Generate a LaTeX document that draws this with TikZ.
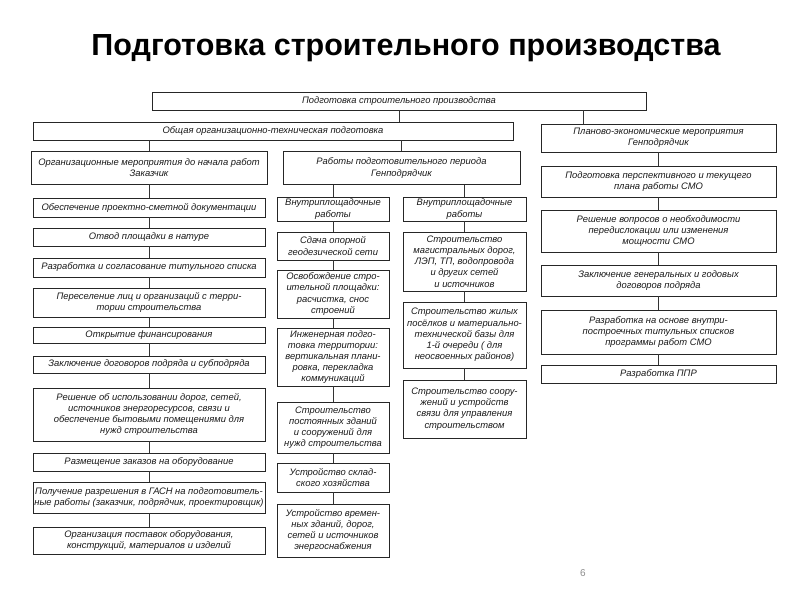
\documentclass[tikz,border=0pt]{standalone}
\usepackage{fontspec}
\setmainfont{Liberation Sans}
\usepackage{tikz}
\tikzset{
  blk/.style={draw=black!85, line width=0.9pt, align=center, inner sep=0.5pt,
    font=\itshape\fontsize{9.4}{11.2}\selectfont, text=black!90},
  lbox/.style={blk, minimum width=232pt},
  abox/.style={blk, minimum width=112pt},
  bbox/.style={blk, minimum width=123pt},
  rbox/.style={blk, minimum width=235pt},
  link/.style={draw=black!80, line width=0.7pt},
}

\begin{document}
\begin{tikzpicture}[x=1pt, y=-1pt]
        \useasboundingbox (0, 0) rectangle (800, 600);
        \node (TITLE) at (406, 48.5) {\bfseries\fontsize{30.5}{32}\selectfont Подготовка строительного производства};
        \node [blk, minimum width=494pt, minimum height=18pt] (TOP) at (399, 101) {Подготовка строительного производства};
        \node [blk, minimum width=480pt, minimum height=18pt] (GEN) at (273, 131) {Общая организационно-техническая подготовка};
        \node [blk, minimum width=236pt, minimum height=33pt] (LH) at (149, 167.5) {Организационные мероприятия до начала работ\\Заказчик};
        \node [blk, minimum width=237pt, minimum height=33pt] (MH) at (401.5, 168) {Работы подготовительного периода\\Генподрядчик};
        \node [rbox, minimum height=28pt] (R0) at (658.5, 138) {Планово-экономические мероприятия\\Генподрядчик};
        \node [rbox, minimum height=31pt] (R1) at (658.5, 181.5) {Подготовка перспективного и текущего\\плана работы СМО};
        \node [rbox, minimum height=42pt] (R2) at (658.5, 231) {Решение вопросов о необходимости\\передислокации или изменения\\мощности СМО};
        \node [rbox, minimum height=31pt] (R3) at (658.5, 280.5) {Заключение генеральных и годовых\\договоров подряда};
        \node [rbox, minimum height=44pt] (R4) at (658.5, 332) {Разработка на основе внутри-\\построечных титульных списков\\программы работ СМО};
        \node [rbox, minimum height=18pt] (R5) at (658.5, 374) {Разработка ППР};
        \node [lbox, minimum height=19pt] (L1) at (149, 207.5) {Обеспечение проектно-сметной документации};
        \node [lbox, minimum height=18pt] (L2) at (149, 237) {Отвод площадки в натуре};
        \node [lbox, minimum height=19pt] (L3) at (149, 267.5) {Разработка и согласование титульного списка};
        \node [lbox, minimum height=29pt] (L4) at (149, 302.5) {Переселение лиц и организаций с терри-\\тории строительства};
        \node [lbox, minimum height=16pt] (L5) at (149, 335) {Открытие финансирования};
        \node [lbox, minimum height=17pt] (L6) at (149, 364.5) {Заключение договоров подряда и субподряда};
        \node [lbox, minimum height=53pt] (L7) at (149, 414.5) {Решение об использовании дорог, сетей,\\источников энергоресурсов, связи и\\обеспечение бытовыми помещениями для\\нужд строительства};
        \node [lbox, minimum height=18pt] (L8) at (149, 462) {Размещение заказов на оборудование};
        \node [lbox, minimum height=31pt] (L9) at (149, 497.5) {Получение разрешения в ГАСН на подготовитель-\\ные работы (заказчик, подрядчик, проектировщик)};
        \node [lbox, minimum height=27pt] (L10) at (149, 540.5) {Организация поставок оборудования,\\конструкций, материалов и изделий};
        \node [abox, minimum height=24pt] (A1) at (333, 209) {Внутриплощадочные\\работы};
        \node [abox, minimum height=28pt] (A2) at (333, 246) {Сдача опорной\\геодезической сети};
        \node [abox, minimum height=48pt] (A3) at (333, 294) {Освобождение стро-\\ительной площадки:\\расчистка, снос\\строений};
        \node [abox, minimum height=58pt] (A4) at (333, 357) {Инженерная подго-\\товка территории:\\вертикальная плани-\\ровка, перекладка\\коммуникаций};
        \node [abox, minimum height=51pt] (A5) at (333, 427.5) {Строительство\\постоянных зданий\\и сооружений для\\нужд строительства};
        \node [abox, minimum height=29pt] (A6) at (333, 477.5) {Устройство склад-\\ского хозяйства};
        \node [abox, minimum height=53pt] (A7) at (333, 530.5) {Устройство времен-\\ных зданий, дорог,\\сетей и источников\\энергоснабжения};
        \node [bbox, minimum height=24pt] (B1) at (464.5, 209) {Внутриплощадочные\\работы};
        \node [bbox, minimum height=59pt] (B2) at (464.5, 261.5) {Строительство\\магистральных дорог,\\ЛЭП, ТП, водопровода\\и других сетей\\и источников};
        \node [bbox, minimum height=66pt] (B3) at (464.5, 335) {Строительство жилых\\посёлков и материально-\\технической базы для\\1-й очереди ( для\\неосвоенных районов)};
        \node [bbox, minimum height=58pt] (B4) at (464.5, 409) {Строительство соору-\\жений и устройств\\связи для управления\\строительством};
        \node [text=black!45, font=\fontsize{10}{12}\selectfont] (PG) at (583, 573) {6};
        \draw [link] (TOP) -- (TOP.south |- GEN.north);
        \draw [link] ([xshift=-75.5pt]R0.north |- TOP.south) -- ([xshift=-75.5pt]R0.north);
        \draw [link] (GEN.south -| LH) -- (LH);
        \draw [link] (GEN.south -| MH) -- (MH);
        \draw [link] (MH.south -| A1) -- (A1);
        \draw [link] (MH.south -| B1) -- (B1);
        \draw [link] (LH) -- (L1);
        \draw [link] (L1) -- (L2);
        \draw [link] (L2) -- (L3);
        \draw [link] (L3) -- (L4);
        \draw [link] (L4) -- (L5);
        \draw [link] (L5) -- (L6);
        \draw [link] (L6) -- (L7);
        \draw [link] (L7) -- (L8);
        \draw [link] (L8) -- (L9);
        \draw [link] (L9) -- (L10);
        \draw [link] (A1) -- (A2);
        \draw [link] (A2) -- (A3);
        \draw [link] (A3) -- (A4);
        \draw [link] (A4) -- (A5);
        \draw [link] (A5) -- (A6);
        \draw [link] (A6) -- (A7);
        \draw [link] (B1) -- (B2);
        \draw [link] (B2) -- (B3);
        \draw [link] (B3) -- (B4);
        \draw [link] (R0) -- (R1);
        \draw [link] (R1) -- (R2);
        \draw [link] (R2) -- (R3);
        \draw [link] (R3) -- (R4);
        \draw [link] (R4) -- (R5);
\end{tikzpicture}
\end{document}
